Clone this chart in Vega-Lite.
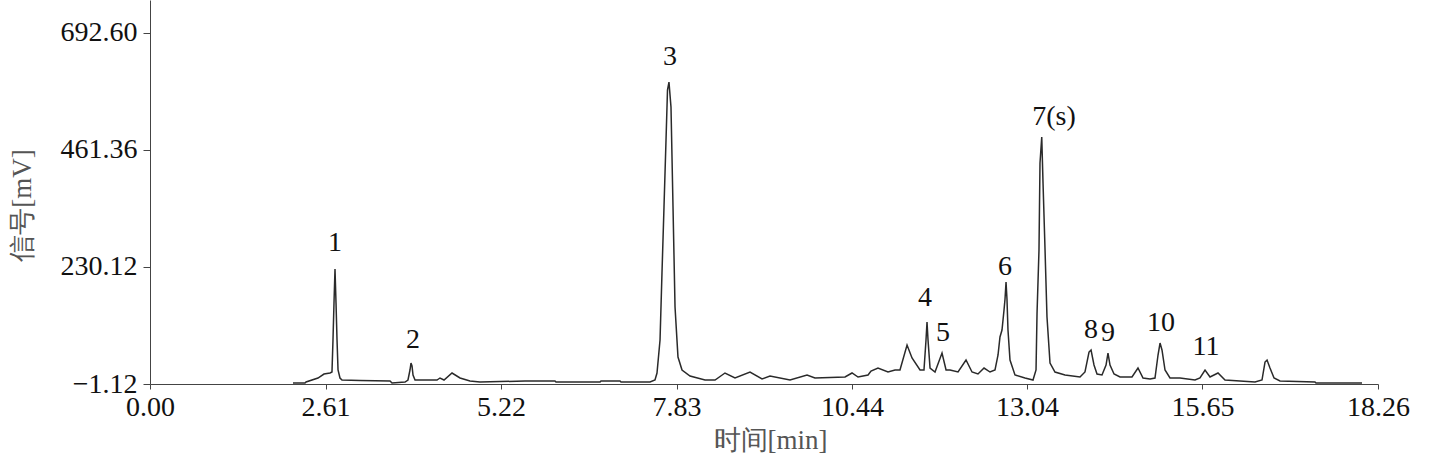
{
  "$schema": "https://vega.github.io/schema/vega-lite/v6.json",
  "width": 1228,
  "height": 384,
  "autosize": {"type": "none"},
  "padding": {"left": 150, "top": 0, "right": 58, "bottom": 79},
  "background": "#ffffff",
  "config": {
    "view": {"stroke": null},
    "axis": {"grid": false, "domainColor": "#444444", "tickColor": "#444444", "labelFont": "Liberation Serif", "labelColor": "#111111", "titleFont": "Liberation Serif", "titleColor": "#555555", "titleFontWeight": "normal"}
  },
  "datasets": {
    "signal": [
      {"t": 2.126, "v": 0.86}, {"t": 2.305, "v": 0.86}, {"t": 2.320, "v": 2.83}, {"t": 2.498, "v": 10.73},
      {"t": 2.587, "v": 18.63}, {"t": 2.677, "v": 20.61}, {"t": 2.706, "v": 22.58}, {"t": 2.721, "v": 85.78},
      {"t": 2.736, "v": 158.86}, {"t": 2.751, "v": 226.0}, {"t": 2.766, "v": 158.86}, {"t": 2.781, "v": 85.78},
      {"t": 2.796, "v": 26.53}, {"t": 2.825, "v": 10.73}, {"t": 2.855, "v": 6.78}, {"t": 3.123, "v": 5.79},
      {"t": 3.569, "v": 4.81}, {"t": 3.599, "v": 0.86}, {"t": 3.792, "v": 2.83}, {"t": 3.836, "v": 6.78},
      {"t": 3.866, "v": 26.53}, {"t": 3.881, "v": 40.36}, {"t": 3.896, "v": 34.43}, {"t": 3.911, "v": 16.66},
      {"t": 3.941, "v": 6.78}, {"t": 4.268, "v": 6.78}, {"t": 4.312, "v": 10.73}, {"t": 4.372, "v": 6.78},
      {"t": 4.491, "v": 20.61}, {"t": 4.610, "v": 10.73}, {"t": 4.758, "v": 4.81}, {"t": 4.907, "v": 2.83},
      {"t": 5.576, "v": 4.81}, {"t": 6.022, "v": 4.81}, {"t": 6.037, "v": 2.83}, {"t": 6.692, "v": 2.83},
      {"t": 6.706, "v": 4.81}, {"t": 6.989, "v": 4.81}, {"t": 7.004, "v": 2.83}, {"t": 7.435, "v": 2.83},
      {"t": 7.509, "v": 6.78}, {"t": 7.539, "v": 20.61}, {"t": 7.584, "v": 85.78}, {"t": 7.613, "v": 218.1},
      {"t": 7.643, "v": 348.5}, {"t": 7.673, "v": 480.8}, {"t": 7.695, "v": 579.6}, {"t": 7.717, "v": 595.3},
      {"t": 7.747, "v": 545.9}, {"t": 7.777, "v": 348.5}, {"t": 7.807, "v": 150.96}, {"t": 7.851, "v": 52.2},
      {"t": 7.911, "v": 26.53}, {"t": 8.030, "v": 14.68}, {"t": 8.253, "v": 6.78}, {"t": 8.402, "v": 6.78},
      {"t": 8.550, "v": 20.61}, {"t": 8.699, "v": 10.73}, {"t": 8.922, "v": 22.58}, {"t": 9.101, "v": 8.76},
      {"t": 9.219, "v": 14.68}, {"t": 9.517, "v": 6.78}, {"t": 9.770, "v": 16.66}, {"t": 9.888, "v": 10.73},
      {"t": 10.335, "v": 12.71}, {"t": 10.439, "v": 20.61}, {"t": 10.528, "v": 12.71}, {"t": 10.677, "v": 16.66},
      {"t": 10.721, "v": 24.56}, {"t": 10.825, "v": 30.48}, {"t": 10.974, "v": 22.58}, {"t": 11.078, "v": 26.53},
      {"t": 11.152, "v": 26.53}, {"t": 11.257, "v": 75.91}, {"t": 11.331, "v": 50.23}, {"t": 11.450, "v": 26.53},
      {"t": 11.509, "v": 26.53}, {"t": 11.539, "v": 85.78}, {"t": 11.554, "v": 121.33}, {"t": 11.569, "v": 85.78},
      {"t": 11.599, "v": 30.48}, {"t": 11.673, "v": 22.58}, {"t": 11.777, "v": 60.1}, {"t": 11.837, "v": 26.53},
      {"t": 11.896, "v": 26.53}, {"t": 12.015, "v": 22.58}, {"t": 12.134, "v": 46.28}, {"t": 12.223, "v": 22.58},
      {"t": 12.312, "v": 18.63}, {"t": 12.402, "v": 30.48}, {"t": 12.491, "v": 22.58}, {"t": 12.565, "v": 26.53},
      {"t": 12.610, "v": 56.16}, {"t": 12.639, "v": 91.71}, {"t": 12.669, "v": 105.5}, {"t": 12.699, "v": 145.0},
      {"t": 12.714, "v": 166.8}, {"t": 12.729, "v": 200.3}, {"t": 12.743, "v": 166.8}, {"t": 12.758, "v": 105.5},
      {"t": 12.788, "v": 46.28}, {"t": 12.862, "v": 16.66}, {"t": 13.011, "v": 10.73}, {"t": 13.130, "v": 6.78},
      {"t": 13.175, "v": 26.53}, {"t": 13.190, "v": 139.1}, {"t": 13.219, "v": 263.5}, {"t": 13.234, "v": 435.4},
      {"t": 13.260, "v": 486.7}, {"t": 13.279, "v": 395.9}, {"t": 13.309, "v": 263.5}, {"t": 13.338, "v": 131.2},
      {"t": 13.383, "v": 40.36}, {"t": 13.457, "v": 22.58}, {"t": 13.606, "v": 16.66}, {"t": 13.829, "v": 12.71},
      {"t": 13.903, "v": 22.58}, {"t": 13.963, "v": 62.08}, {"t": 13.993, "v": 66.03}, {"t": 14.037, "v": 36.41},
      {"t": 14.082, "v": 18.63}, {"t": 14.156, "v": 16.66}, {"t": 14.216, "v": 36.41}, {"t": 14.245, "v": 60.1},
      {"t": 14.275, "v": 36.41}, {"t": 14.335, "v": 18.63}, {"t": 14.424, "v": 12.71}, {"t": 14.602, "v": 12.71},
      {"t": 14.691, "v": 30.48}, {"t": 14.766, "v": 10.73}, {"t": 14.870, "v": 8.76}, {"t": 14.944, "v": 10.73},
      {"t": 14.989, "v": 56.16}, {"t": 15.019, "v": 79.86}, {"t": 15.048, "v": 66.03}, {"t": 15.093, "v": 26.53},
      {"t": 15.167, "v": 10.73}, {"t": 15.316, "v": 10.73}, {"t": 15.539, "v": 6.78}, {"t": 15.613, "v": 10.73},
      {"t": 15.688, "v": 26.53}, {"t": 15.762, "v": 12.71}, {"t": 15.881, "v": 20.61}, {"t": 15.985, "v": 6.78},
      {"t": 16.208, "v": 4.81}, {"t": 16.431, "v": 2.83}, {"t": 16.535, "v": 6.78}, {"t": 16.580, "v": 42.33},
      {"t": 16.610, "v": 46.28}, {"t": 16.654, "v": 30.48}, {"t": 16.714, "v": 10.73}, {"t": 16.803, "v": 4.81},
      {"t": 17.323, "v": 2.83}, {"t": 17.338, "v": 0.86}, {"t": 18.022, "v": 0.86}
    ],
    "peaks": [
      {"t": 2.751, "v": 277.4, "label": "1"},
      {"t": 3.911, "v": 85.8, "label": "2"},
      {"t": 7.732, "v": 644.7, "label": "3"},
      {"t": 11.524, "v": 168.7, "label": "4"},
      {"t": 11.792, "v": 99.6, "label": "5"},
      {"t": 12.714, "v": 230.0, "label": "6"},
      {"t": 13.442, "v": 526.2, "label": "7(s)"},
      {"t": 13.993, "v": 105.5, "label": "8"},
      {"t": 14.245, "v": 99.6, "label": "9"},
      {"t": 15.033, "v": 119.4, "label": "10"},
      {"t": 15.703, "v": 72.0, "label": "11"}
    ]
  },
  "layer": [
    {
      "data": {"name": "signal"},
      "mark": {"type": "line", "color": "#2a2a2a", "strokeWidth": 1.5, "interpolate": "linear"},
      "encoding": {
        "x": {
          "field": "t", "type": "quantitative",
          "scale": {"domain": [0, 18.26], "nice": false, "zero": false},
          "axis": {
            "values": [0, 2.61, 5.22, 7.83, 10.44, 13.04, 15.65, 18.26],
            "format": ".2f", "labelFontSize": 28, "tickSize": 5, "labelPadding": 4,
            "title": "时间[min]", "titleFontSize": 27, "titleX": 620, "titleY": 56, "titleBaseline": "middle",
            "labelFlush": false
          }
        },
        "y": {
          "field": "v", "type": "quantitative",
          "scale": {"domain": [-1.12, 757.5], "nice": false, "zero": false},
          "axis": {
            "values": [-1.12, 230.12, 461.36, 692.6],
            "format": ".2f", "labelFontSize": 28, "tickSize": 7, "labelPadding": 6,
            "title": "信号[mV]", "titleFontSize": 27, "titleX": -128, "titleY": 205, "titleBaseline": "middle",
            "labelFlush": false
          }
        }
      }
    },
    {
      "data": {"name": "peaks"},
      "mark": {"type": "text", "font": "Liberation Serif", "fontSize": 28, "color": "#111111", "align": "center", "baseline": "middle"},
      "encoding": {
        "x": {"field": "t", "type": "quantitative"},
        "y": {"field": "v", "type": "quantitative"},
        "text": {"field": "label"}
      }
    }
  ]
}
